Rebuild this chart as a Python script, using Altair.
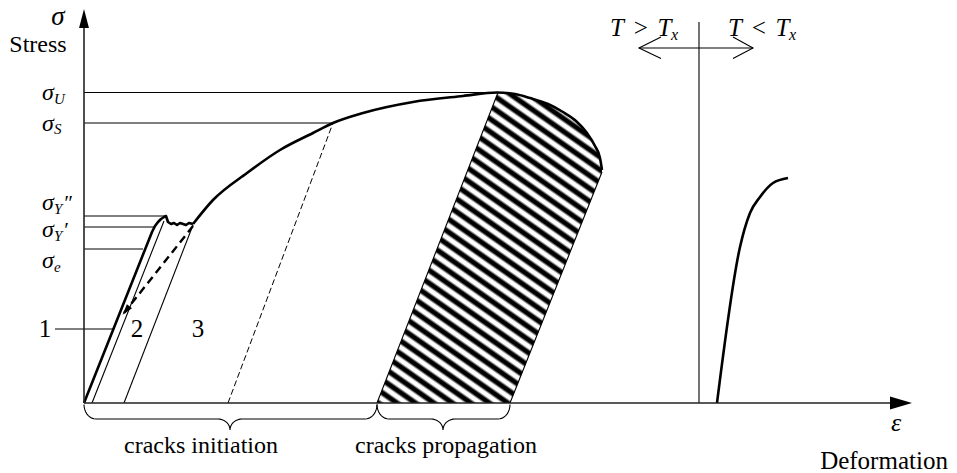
import math
import altair as alt
import numpy as np
import pandas as pd

# ------------------------------------------------------------------
# Data (drawing units: strain along x, stress along y, origin = axes crossing)
# ------------------------------------------------------------------
# characteristic stress levels and where their guide lines end
level_names = ["U", "S", "Y''", "Y'", "e"]
level_stress = [310.5, 280, 187, 176, 154]
level_strain_end = [413, 249, 82, 71, 59]

# main ductile curve: elastic part + yield plateau (drawn with straight segments)
elastic_strain = [0, 68, 71, 74, 77, 80, 82, 84, 87, 90, 93, 96, 99, 102, 105, 109]
elastic_stress = [0, 171, 177, 181, 184, 186, 187, 181, 179, 180, 178, 180, 179, 178, 180, 179]
# main ductile curve: strain hardening, ultimate stress and necking (smooth)
harden_strain = [109, 129, 163, 196, 229, 249, 279, 329, 379, 413,
                 431, 446, 464, 479, 492, 503, 511, 516, 518]
harden_stress = [179, 203, 230, 253, 270, 280, 290, 301, 307, 310.5,
                 309, 305, 299, 291, 282, 270, 257, 245, 233]

# brittle curve (T < Tx)
brittle_strain = [633, 656, 666, 676, 689, 704]
brittle_stress = [0, 156, 190, 206, 220, 225]

# unloading lines 2 and 3, thin dashed unloading line, thick dashed return
line2_strain, line2_stress = [8, 80], [0, 182]
line3_strain, line3_stress = [40, 109], [0, 178]
dash_thin_strain, dash_thin_stress = [144, 249], [0, 280]
dash_thick_strain, dash_thick_stress = [109, 40], [177, 90]

# hatched (cracks propagation) zone: x, upper and lower boundary
hatch_strain = [293, 414, 426, 431, 446, 464, 479, 492, 503, 511, 516, 518]
hatch_top = [0, 310.5, 309.5, 309, 305, 299, 291, 282, 270, 257, 245, 233]
hatch_bottom = [0, 0, 0, 12, 50, 95, 133, 166, 193, 213, 226, 231]

# braces under the strain axis
brace_start = [0, 293]
brace_end = [293, 426]
brace_mid = [146, 359]
brace_labels = ["cracks initiation", "cracks propagation"]
brace_label_x = [117, 362]

# transition temperature marker
tx_strain = 615
tx_top = 381
tx_arrow_stress = 355
tx_arrow_left, tx_arrow_right = 555, 669

# curve numbers
num_labels = ["1", "2", "3"]
num_strain = [-39, 53, 114]
num_stress = [66, 66, 66]

# ------------------------------------------------------------------
XD = [-76, 865]
YD = [-70, 395]
W, H = 941, 465
FONT = "Liberation Serif"


def xq(f):
    return alt.X(f, type="quantitative",
                 scale=alt.Scale(domain=XD, nice=False, zero=False), axis=None)


def yq(f):
    return alt.Y(f, type="quantitative",
                 scale=alt.Scale(domain=YD, nice=False, zero=False), axis=None)


def path_rows(pid, xs, ys):
    return [{"id": pid, "i": k, "x": float(a), "y": float(b)}
            for k, (a, b) in enumerate(zip(xs, ys))]


# ---- thin solid lines ----
thin = []
for n, s, e in zip(level_names, level_stress, level_strain_end):
    thin += path_rows("lvl" + n, [0, e], [s, s])
thin += path_rows("l2", line2_strain, line2_stress)
thin += path_rows("l3", line3_strain, line3_stress)
thin += path_rows("lead1", [-29, 29], [74, 74])
thin += path_rows("hl", [hatch_strain[0], hatch_strain[1]], [hatch_top[0], hatch_top[1]])
thin += path_rows("hr", [hatch_strain[2], hatch_strain[-1]], [hatch_bottom[2], hatch_bottom[-1]])
thin += path_rows("tx", [tx_strain, tx_strain], [0, tx_top])
thin += path_rows("txa", [tx_arrow_left, tx_arrow_right], [tx_arrow_stress] * 2)
thin += path_rows("vl", [tx_arrow_left + 22, tx_arrow_left, tx_arrow_left + 22],
                  [tx_arrow_stress + 11, tx_arrow_stress, tx_arrow_stress - 10.5])
thin += path_rows("vr", [tx_arrow_right - 20, tx_arrow_right, tx_arrow_right - 20],
                  [tx_arrow_stress + 11, tx_arrow_stress, tx_arrow_stress - 10.5])

# braces
for b, (x0, x1, xm) in enumerate(zip(brace_start, brace_end, brace_mid)):
    yt, yh, ytip, rx = -1.5, -16.0, -27.0, 12.0
    ry, ry2 = yt - yh, yh - ytip
    t = np.linspace(0, math.pi / 2, 10)
    bx = list(x0 + rx - rx * np.cos(t)) + list(xm - rx + rx * np.sin(t)) + \
        list(xm + rx - rx * np.sin(t[::-1])) + list(x1 - rx + rx * np.cos(t[::-1]))
    by = list(yt - ry * np.sin(t)) + list(ytip + ry2 * np.cos(t)) + \
        list(ytip + ry2 * np.cos(t[::-1])) + list(yt - ry * np.sin(t[::-1]))
    thin += path_rows("brace%d" % b, bx, by)

thin_df = pd.DataFrame(thin)
thin_layer = alt.Chart(thin_df).mark_line(color="black", strokeWidth=1.1).encode(
    x=xq("x"), y=yq("y"), detail="id:N", order="i:Q")

# ---- axes ----
axes_df = pd.DataFrame(path_rows("ay", [0, 0], [0, 377]) + path_rows("ax", [0, 807], [0, 0]))
axes_layer = alt.Chart(axes_df).mark_line(color="#222", strokeWidth=1.6).encode(
    x=xq("x"), y=yq("y"), detail="id:N", order="i:Q")

up_arrow = alt.Chart(pd.DataFrame({"x": [0], "y": [384.5]})).mark_point(
    shape="M0,-1L0.52,1L-0.52,1Z", size=361, filled=True, color="black",
    opacity=1, strokeWidth=0).encode(x=xq("x"), y=yq("y"))
right_arrow = alt.Chart(pd.DataFrame({"x": [817], "y": [0]})).mark_point(
    shape="M1,0L-1,-0.6L-1,0.6Z", size=484, filled=True, color="black",
    opacity=1, strokeWidth=0).encode(x=xq("x"), y=yq("y"))

# ---- hatched zone (striped gradient fill) ----
hatch_df = pd.DataFrame({"x": hatch_strain, "top": hatch_top, "bot": hatch_bottom})
bw = max(hatch_strain) - min(hatch_strain)
bh = max(hatch_top) - min(hatch_bottom)
ang = math.radians(35)
period = 10.6
gu = np.array([math.sin(ang) / bh, -math.cos(ang) / bw])
gu = gu / np.linalg.norm(gu)
start = np.array([0.0, 1.0])
corners = [np.array(c) - start for c in ([0, 0], [1, 0], [1, 1], [0, 1])]
Lu = max(float(c @ gu) for c in corners)
end = start + Lu * gu
Ls = bw * math.sin(ang) + bh * math.cos(ang)
N = Ls / period
pattern = [(0.0, "#000000"), (0.22, "#000000"), (0.44, "#ffffff"),
           (0.72, "#ffffff"), (0.94, "#000000"), (1.0, "#000000")]
stops = []
last = -1.0
for k in range(int(math.ceil(N)) + 1):
    for f, c in pattern[:-1]:
        off = (k + f) / N
        if off <= 1.0 and off > last:
            stops.append({"offset": off, "color": c})
            last = off
gradient = {"gradient": "linear", "x1": 0, "y1": 1,
            "x2": float(end[0]), "y2": float(end[1]), "stops": stops}

hatch_layer = alt.Chart(hatch_df).mark_area(
    fill=gradient, orient="vertical", interpolate="linear", strokeWidth=0).encode(
    x=xq("x"), y=yq("top"), y2="bot")

# ---- thick curves ----
elastic_layer = alt.Chart(pd.DataFrame(path_rows("el", elastic_strain, elastic_stress))).mark_line(
    color="black", strokeWidth=2.6, interpolate="linear", strokeJoin="round").encode(
    x=xq("x"), y=yq("y"), order="i:Q")
smooth_df = pd.DataFrame(path_rows("harden", harden_strain, harden_stress) +
                         path_rows("brittle", brittle_strain, brittle_stress))
smooth_layer = alt.Chart(smooth_df).mark_line(
    color="black", strokeWidth=2.6, interpolate="monotone").encode(
    x=xq("x"), y=yq("y"), detail="id:N", order="i:Q")

# ---- dashed lines ----
dthin = alt.Chart(pd.DataFrame(path_rows("d1", dash_thin_strain, dash_thin_stress))).mark_line(
    color="black", strokeWidth=1, strokeDash=[6, 3]).encode(
    x=xq("x"), y=yq("y"), order="i:Q")
dthick = alt.Chart(pd.DataFrame(path_rows("d2", dash_thick_strain, dash_thick_stress))).mark_line(
    color="black", strokeWidth=2.4, strokeDash=[8, 5]).encode(
    x=xq("x"), y=yq("y"), order="i:Q")
dhead = alt.Chart(pd.DataFrame({"x": [dash_thick_strain[1] + 2],
                                "y": [dash_thick_stress[1] + 2.5]})).mark_point(
    shape="M0,-1L0.6,1L-0.6,1Z", size=120, filled=True, color="black",
    opacity=1, strokeWidth=0, angle=219).encode(x=xq("x"), y=yq("y"))

# ---- texts ----
it_left = pd.DataFrame([
    {"t": "σ", "x": -42, "y": 303, "s": 24},
    {"t": "σ", "x": -42, "y": 272, "s": 24},
    {"t": "σ", "x": -42, "y": 193, "s": 24},
    {"t": "σ", "x": -42, "y": 166, "s": 24},
    {"t": "σ", "x": -42, "y": 135, "s": 24},
    {"t": "U", "x": -30, "y": 299, "s": 15},
    {"t": "S", "x": -30, "y": 269, "s": 15},
    {"t": "Y", "x": -30, "y": 189, "s": 15},
    {"t": "Y", "x": -30, "y": 162, "s": 15},
    {"t": "e", "x": -30, "y": 131, "s": 15},
    {"t": "″", "x": -21, "y": 193, "s": 21},
    {"t": "′", "x": -21, "y": 166, "s": 21},
    {"t": "T\u2004>\u2004T", "x": 526, "y": 367, "s": 25},
    {"t": "x", "x": 587, "y": 363, "s": 16},
    {"t": "T\u2004<\u2004T", "x": 644, "y": 367, "s": 25},
    {"t": "x", "x": 705, "y": 363, "s": 16},
])
it_center = pd.DataFrame([
    {"t": "σ", "x": -26, "y": 378, "s": 27},
    {"t": "ε", "x": 812, "y": -28, "s": 26},
])
rm_center = pd.DataFrame(
    [{"t": "Stress", "x": -46, "y": 351, "s": 24},
     {"t": "Deformation", "x": 800, "y": -66, "s": 25}] +
    [{"t": l, "x": x, "y": -50, "s": 24} for l, x in zip(brace_labels, brace_label_x)] +
    [{"t": t, "x": x, "y": y, "s": 25} for t, x, y in zip(num_labels, num_strain, num_stress)]
)


def text_layer(df, style, align):
    return alt.Chart(df).mark_text(font=FONT, fontStyle=style, align=align,
                                   baseline="alphabetic", color="black").encode(
        x=xq("x"), y=yq("y"), text="t:N", size=alt.Size("s:Q", scale=None))


chart = alt.layer(
    hatch_layer,
    thin_layer,
    dthin,
    dthick,
    dhead,
    elastic_layer,
    smooth_layer,
    axes_layer,
    up_arrow,
    right_arrow,
    text_layer(it_left, "italic", "left"),
    text_layer(it_center, "italic", "center"),
    text_layer(rm_center, "normal", "center"),
).properties(
    width=W, height=H, padding=0,
    autosize=alt.AutoSizeParams(type="none"),
    background="white",
).configure_view(stroke=None)

chart.save("out.html", embed_options={"renderer": "svg", "actions": False})
